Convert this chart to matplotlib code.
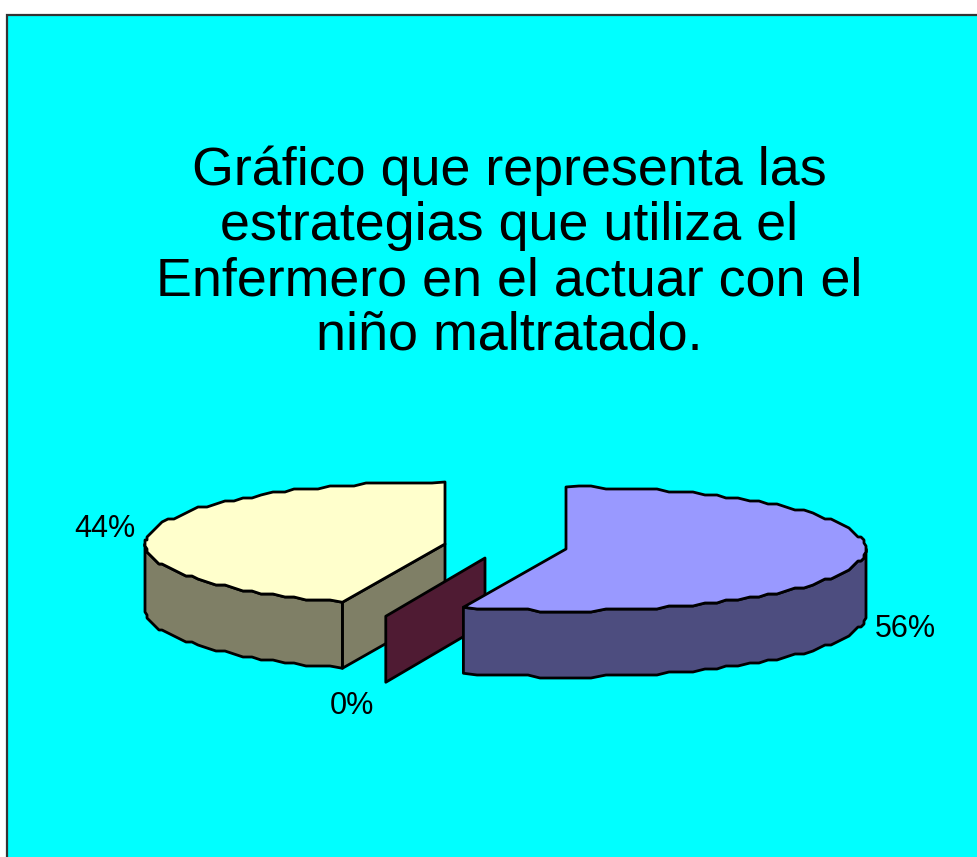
import matplotlib
matplotlib.use('Agg')
import matplotlib.pyplot as plt
from matplotlib.patches import Polygon, Rectangle
import numpy as np

plt.rcParams['font.family'] = ['Liberation Sans', 'DejaVu Sans']

values = [5, 0, 4]
percent_labels = ['56%', '0%', '44%']
top_colors = ['#9999FF', '#4F1B33', '#FFFFCC']
side_colors = ['#4D4D7F', '#4F1B33', '#7F7F66']
title_lines = ['Gráfico que representa las', 'estrategias que utiliza el',
               'Enfermero en el actuar con el', 'niño maltratado.']

# pixel space, so the exploded slices can sit where the reference has them
fig = plt.figure(figsize=(9.77, 8.57), dpi=100, facecolor='white')
ax = fig.add_axes([0, 0, 1, 1])
ax.set_xlim(0, 977)
ax.set_ylim(857, 0)
ax.axis('off')

ax.add_patch(Rectangle((7, 15), 980, 860, facecolor='#00FFFF', edgecolor='#333333', lw=1.6))

rx, ry, depth = 300, 62, 66
centers = [(566, 549), (485, 558), (445, 544)]
label_pos = [(905, 629), (352, 706), (105, 529)]
STEP = 3.0


def rim(cx, cy, a0, a1):
    # angles clockwise from 12 o'clock, stepped like the low-res original
    n = max(int(abs(a1 - a0) / 2.5), 1)
    t = np.radians(np.linspace(a0, a1, n + 1))
    x = cx + rx * np.sin(t)
    y = cy - ry * np.cos(t)
    x[1:-1] = np.clip(np.round(x[1:-1] / STEP) * STEP, cx - rx, cx + rx)
    y[1:-1] = np.round(y[1:-1] / STEP) * STEP
    return np.column_stack([x, y])


def poly(pts, color, z):
    ax.add_patch(Polygon(pts, closed=True, facecolor=color, edgecolor='black',
                         lw=2.0, joinstyle='round', zorder=z))


total = sum(values)
angles = np.cumsum([0] + values) / total * 360
down = np.array([0, depth])

# yellow slice first, then the 0% sliver, then the blue slice in front of it
for i in [2, 1, 0]:
    a0, a1 = angles[i], angles[i + 1]
    c = np.array(centers[i], dtype=float)
    z = 3 + (2 - i) * 3
    if values[i] == 0:
        end = c + np.array([rx * 0.967 * np.sin(np.radians(a0)), -ry * np.cos(np.radians(a0))])
        poly([c, end, end + down, c + down], top_colors[i], z)
        continue
    edge = rim(c[0], c[1], a0, a1)
    if a0 > 90:
        # the cut face looks at the viewer on this slice
        first = edge[0]
        poly([c, first, first + down, c + down], side_colors[i], z)
    vis = rim(c[0], c[1], max(a0, 90), min(a1, 270))
    poly(np.vstack([vis, (vis + down)[::-1]]), side_colors[i], z + 1)
    poly(np.vstack([[c], edge]), top_colors[i], z + 2)

for lab, (x, y) in zip(percent_labels, label_pos):
    ax.text(x, y, lab, ha='center', va='center', fontsize=22, color='black', zorder=20)

for k, line in enumerate(title_lines):
    ax.text(509, 171 + 55 * k, line, ha='center', va='center', fontsize=38.8, color='black', zorder=20)

plt.savefig('out.png', dpi=100)
